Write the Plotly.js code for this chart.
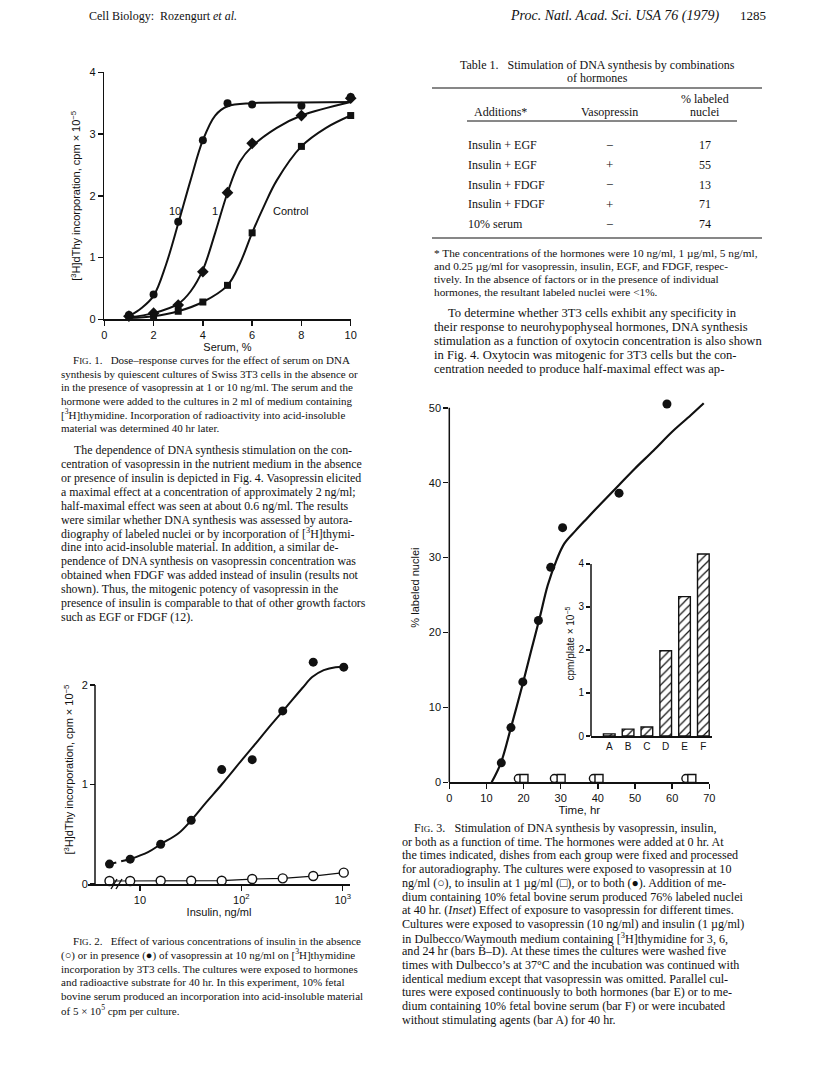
<!DOCTYPE html>
<html><head><meta charset="utf-8">
<script src="https://cdn.plot.ly/plotly-3.0.1.min.js"></script>
<style>html,body{margin:0;padding:0;background:#fff}</style>
</head><body><div id="page" style="width:816px;height:1089px"></div>
<script>
// ---------- Fig. 1 data ----------
const serum = [1, 2, 3, 4, 5, 6, 8, 10];
const vaso10 = [0.07, 0.40, 1.58, 2.90, 3.50, 3.48, 3.46, 3.60];
const vaso1 = [0.05, 0.10, 0.23, 0.77, 2.05, 2.85, 3.30, 3.58];
const controlSerum = [0.03, 0.05, 0.13, 0.28, 0.55, 1.40, 2.80, 3.30];
const fit10X = [1, 1.5, 2, 2.5, 3, 3.5, 4, 4.5, 5, 6, 8, 10];
const fit10Y = [0.05, 0.18, 0.38, 0.88, 1.55, 2.25, 2.9, 3.3, 3.45, 3.5, 3.51, 3.52];
const fit1X = [1, 2, 3, 3.5, 4, 4.5, 5, 5.5, 6, 7, 8, 10];
const fit1Y = [0.03, 0.10, 0.25, 0.45, 0.80, 1.40, 2.05, 2.55, 2.80, 3.10, 3.30, 3.52];
const fitCX = [1, 2, 3, 4, 5, 5.5, 6, 6.5, 7, 8, 9, 10];
const fitCY = [0.02, 0.05, 0.13, 0.28, 0.55, 0.90, 1.40, 1.85, 2.25, 2.80, 3.10, 3.30];

// ---------- Fig. 2 data (first value = no insulin, drawn left of the axis break) ----------
const insulin = [5, 8, 16, 32, 64, 128, 256, 512, 1024];
const withVaso = [0.20, 0.25, 0.40, 0.64, 1.15, 1.25, 1.74, 2.23, 2.18];
const withoutVaso = [0.03, 0.03, 0.033, 0.033, 0.033, 0.05, 0.057, 0.08, 0.114];
const fitInsX = [8, 12, 16, 24, 32, 45, 64, 100, 128, 200, 273, 400, 500, 650, 850, 1024];
const fitInsY = [0.25, 0.32, 0.40, 0.51, 0.64, 0.82, 1.00, 1.24, 1.37, 1.61, 1.77, 1.97, 2.08, 2.15, 2.18, 2.18];
const insTickVals = [10, 100, 1000];
const insTickText = ['10', '10<sup>2</sup>', '10<sup>3</sup>'];

// ---------- Fig. 3 data ----------
const timeBoth = [14, 16.6, 19.8, 24, 27.3, 30.5, 45.7, 58.6];
const labeledBoth = [2.6, 7.3, 13.4, 21.6, 28.7, 34.0, 38.6, 50.5];
const fitTime = [11.4, 13.9, 16.6, 19.8, 22, 24.4, 26.5, 28.9, 31, 34, 37, 41, 45.7, 50, 55, 60, 65, 68.5];
const fitLabeled = [0, 2.6, 7.3, 13.2, 17.5, 22.1, 26.3, 29.7, 31.9, 33.6, 35.2, 37.3, 39.7, 41.9, 44.3, 46.8, 49.0, 50.6];
const timeVaso = [18.6, 28.3, 38.8, 63.7];
const labeledVaso = [0.5, 0.5, 0.5, 0.5];
const timeIns = [20.1, 30.1, 40.3, 65.3];
const labeledIns = [0.5, 0.5, 0.5, 0.5];
// inset
const insetBars = ['A', 'B', 'C', 'D', 'E', 'F'];
const insetValues = [0.05, 0.16, 0.21, 1.98, 3.24, 4.23];

// ---------- Table 1 ----------
const tableAdditions = ['Insulin + EGF', 'Insulin + EGF', 'Insulin + FDGF', 'Insulin + FDGF', '10% serum'];
const tableVaso = ['\u2212', '+', '\u2212', '+', '\u2212'];
const tableLabeled = ['17', '55', '13', '71', '74'];

// ---------- text ----------
const SC = s => '<span style="font-size:9px">' + s + '</span>';
const fig1Caption = [
  'F' + SC('IG') + '. 1.   Dose\u2013response curves for the effect of serum on DNA',
  'synthesis by quiescent cultures of Swiss 3T3 cells in the absence or',
  'in the presence of vasopressin at 1 or 10 ng/ml. The serum and the',
  'hormone were added to the cultures in 2 ml of medium containing',
  '[<sup>3</sup>H]thymidine. Incorporation of radioactivity into acid-insoluble',
  'material was determined 40 hr later.'
];
const leftBody = [
  'The dependence of DNA synthesis stimulation on the con-',
  'centration of vasopressin in the nutrient medium in the absence',
  'or presence of insulin is depicted in Fig. 4. Vasopressin elicited',
  'a maximal effect at a concentration of approximately 2 ng/ml;',
  'half-maximal effect was seen at about 0.6 ng/ml. The results',
  'were similar whether DNA synthesis was assessed by autora-',
  'diography of labeled nuclei or by incorporation of [<sup>3</sup>H]thymi-',
  'dine into acid-insoluble material. In addition, a similar de-',
  'pendence of DNA synthesis on vasopressin concentration was',
  'obtained when FDGF was added instead of insulin (results not',
  'shown). Thus, the mitogenic potency of vasopressin in the',
  'presence of insulin is comparable to that of other growth factors',
  'such as EGF or FDGF (12).'
];
const fig2Caption = [
  'F' + SC('IG') + '. 2.   Effect of various concentrations of insulin in the absence',
  '(\u25CB) or in presence (\u25CF) of vasopressin at 10 ng/ml on [<sup>3</sup>H]thymidine',
  'incorporation by 3T3 cells. The cultures were exposed to hormones',
  'and radioactive substrate for 40 hr. In this experiment, 10% fetal',
  'bovine serum produced an incorporation into acid-insoluble material',
  'of 5 \u00D7 10<sup>5</sup> cpm per culture.'
];
const tableFootnote = [
  '* The concentrations of the hormones were 10 ng/ml, 1 \u00B5g/ml, 5 ng/ml,',
  'and 0.25 \u00B5g/ml for vasopressin, insulin, EGF, and FDGF, respec-',
  'tively. In the absence of factors or in the presence of individual',
  'hormones, the resultant labeled nuclei were &lt;1%.'
];
const rightBody = [
  'To determine whether 3T3 cells exhibit any specificity in',
  'their response to neurohypophyseal hormones, DNA synthesis',
  'stimulation as a function of oxytocin concentration is also shown',
  'in Fig. 4. Oxytocin was mitogenic for 3T3 cells but the con-',
  'centration needed to produce half-maximal effect was ap-'
];
const fig3Caption = [
  'F' + SC('IG') + '. 3.   Stimulation of DNA synthesis by vasopressin, insulin,',
  'or both as a function of time. The hormones were added at 0 hr. At',
  'the times indicated, dishes from each group were fixed and processed',
  'for autoradiography. The cultures were exposed to vasopressin at 10',
  'ng/ml (\u25CB), to insulin at 1 \u00B5g/ml (\u25A1), or to both (\u25CF). Addition of me-',
  'dium containing 10% fetal bovine serum produced 76% labeled nuclei',
  'at 40 hr. (<i>Inset</i>) Effect of exposure to vasopressin for different times.',
  'Cultures were exposed to vasopressin (10 ng/ml) and insulin (1 \u00B5g/ml)',
  'in Dulbecco/Waymouth medium containing [<sup>3</sup>H]thymidine for 3, 6,',
  'and 24 hr (bars B\u2013D). At these times the cultures were washed five',
  'times with Dulbecco\u2019s at 37\u00B0C and the incubation was continued with',
  'identical medium except that vasopressin was omitted. Parallel cul-',
  'tures were exposed continuously to both hormones (bar E) or to me-',
  'dium containing 10% fetal bovine serum (bar F) or were incubated',
  'without stimulating agents (bar A) for 40 hr.'
];

// ---------- helpers ----------
const W = 816, H = 1089;
const PX = p => p / W, PY = p => 1 - p / H;
const SERIF = 'Liberation Serif, Times New Roman, serif';
const SANS = 'Liberation Sans, Arial, sans-serif';
const INK = '#111111';
const annotations = [];
const shapes = [];
function textLines(lines, x0, y0, dy, size, indent) {
  lines.forEach((t, i) => annotations.push({
    xref: 'paper', yref: 'paper', x: PX(x0 + (i === 0 ? indent : 0)), y: PY(y0 + i * dy),
    text: t, showarrow: false, xanchor: 'left', yanchor: 'middle',
    font: {family: SERIF, size: size, color: INK}
  }));
}
function note(text, px, py, size, anchor) {
  annotations.push({xref: 'paper', yref: 'paper', x: PX(px), y: PY(py), text: text, showarrow: false,
    xanchor: anchor || 'left', yanchor: 'middle', font: {family: SERIF, size: size, color: INK}});
}
function hline(x0, x1, y, w) {
  shapes.push({type: 'line', xref: 'paper', yref: 'paper', x0: PX(x0), x1: PX(x1), y0: PY(y), y1: PY(y),
    line: {color: INK, width: w || 1}});
}

// header
note('Cell Biology:  Rozengurt <i>et al.</i>', 87, 16, 12);
note('<i>Proc. Natl. Acad. Sci. USA 76 (1979)</i>', 721, 16, 14, 'right');
note('1285', 768, 16, 13, 'right');

// left column text
textLines(fig1Caption, 59, 360, 13.6, 11, 12);
textLines(leftBody, 59, 450, 13.9, 11.9, 13);
textLines(fig2Caption, 59, 941, 13.8, 11, 12);

// table 1
note('Table 1.   Stimulation of DNA synthesis by combinations', 597, 65, 12, 'center');
note('of hormones', 597, 78, 12, 'center');
hline(432, 762, 88, 1.2);
note('% labeled', 705, 99, 12, 'center');
note('nuclei', 705, 112, 12, 'center');
note('Additions*', 500, 112, 12, 'center');
note('Vasopressin', 609, 112, 12, 'center');
hline(467, 737, 121, 1);
tableAdditions.forEach((a, i) => {
  const y = 145 + i * 19.8;
  note(a, 466, y, 12, 'left');
  note(tableVaso[i], 609, y, 13, 'center');
  note(tableLabeled[i], 705, y, 12, 'center');
});
hline(432, 762, 238, 1.2);
textLines(tableFootnote, 432, 253, 13.1, 11.3, 0);
textLines(rightBody, 432, 313, 14, 12.6, 14);
textLines(fig3Caption, 400, 828, 13.7, 12.1, 12);

// fig 1 curve labels
annotations.push({xref: 'x', yref: 'y', x: 2.85, y: 1.75, text: '10', showarrow: false, xanchor: 'center', yanchor: 'middle', font: {family: SANS, size: 11, color: INK}});
annotations.push({xref: 'x', yref: 'y', x: 4.5, y: 1.75, text: '1', showarrow: false, xanchor: 'center', yanchor: 'middle', font: {family: SANS, size: 11, color: INK}});
annotations.push({xref: 'x', yref: 'y', x: 6.75, y: 1.75, text: 'Control', showarrow: false, xanchor: 'left', yanchor: 'middle', font: {family: SANS, size: 11, color: INK}});

// fig 2 axis break marks
[114, 119].forEach(x => shapes.push({type: 'line', xref: 'paper', yref: 'paper',
  x0: PX(x - 3), x1: PX(x + 3), y0: PY(889), y1: PY(879), line: {color: INK, width: 1.4}}));
// fig 2 y axis line (0 to 2 only)
shapes.push({type: 'line', xref: 'paper', yref: 'y2', x0: PX(95), x1: PX(95), y0: 0, y1: 2, line: {color: INK, width: 1.5}});
// fig 3 y axis line (0 to 50 only)
shapes.push({type: 'line', xref: 'x3 domain', yref: 'y3', x0: 0, x1: 0, y0: 0, y1: 50, line: {color: INK, width: 1.5}});
// inset y axis line (0 to 4 only)
shapes.push({type: 'line', xref: 'x4 domain', yref: 'y4', x0: 0, x1: 0, y0: 0, y1: 4, line: {color: INK, width: 1.5}});

// ---------- traces ----------
const LW = 2;
const mk = (sym, size, open) => ({symbol: sym, size: size, color: open ? '#fff' : INK, line: {color: INK, width: open ? 1.4 : 0}});
const traces = [
  // Fig 1
  {x: fit10X, y: fit10Y, xaxis: 'x', yaxis: 'y', mode: 'lines', line: {color: INK, width: LW, shape: 'spline'}, cliponaxis: false, hoverinfo: 'skip', showlegend: false},
  {x: fit1X, y: fit1Y, xaxis: 'x', yaxis: 'y', mode: 'lines', line: {color: INK, width: LW, shape: 'spline'}, cliponaxis: false, hoverinfo: 'skip', showlegend: false},
  {x: fitCX, y: fitCY, xaxis: 'x', yaxis: 'y', mode: 'lines', line: {color: INK, width: LW, shape: 'spline'}, cliponaxis: false, hoverinfo: 'skip', showlegend: false},
  {x: serum, y: vaso10, xaxis: 'x', yaxis: 'y', mode: 'markers', name: '10 ng/ml', marker: mk('circle', 8), cliponaxis: false, showlegend: false},
  {x: serum, y: vaso1, xaxis: 'x', yaxis: 'y', mode: 'markers', name: '1 ng/ml', marker: mk('diamond', 9), cliponaxis: false, showlegend: false},
  {x: serum, y: controlSerum, xaxis: 'x', yaxis: 'y', mode: 'markers', name: 'Control', marker: mk('square', 7), cliponaxis: false, showlegend: false},
  // Fig 2
  {x: insulin, y: withoutVaso, xaxis: 'x2', yaxis: 'y2', mode: 'lines+markers', name: 'no vasopressin', line: {color: INK, width: 1.2}, marker: mk('circle', 9, true), cliponaxis: false, showlegend: false},
  {x: insulin.slice(0, 2), y: withVaso.slice(0, 2), xaxis: 'x2', yaxis: 'y2', mode: 'lines', line: {color: INK, width: LW, dash: '7px,5px'}, cliponaxis: false, hoverinfo: 'skip', showlegend: false},
  {x: fitInsX, y: fitInsY, xaxis: 'x2', yaxis: 'y2', mode: 'lines', line: {color: INK, width: LW, shape: 'spline'}, cliponaxis: false, hoverinfo: 'skip', showlegend: false},
  {x: insulin, y: withVaso, xaxis: 'x2', yaxis: 'y2', mode: 'markers', name: 'vasopressin', marker: mk('circle', 9), cliponaxis: false, showlegend: false},
  // Fig 3
  {x: fitTime, y: fitLabeled, xaxis: 'x3', yaxis: 'y3', mode: 'lines', line: {color: INK, width: 2.2, shape: 'spline'}, cliponaxis: false, hoverinfo: 'skip', showlegend: false},
  {x: timeBoth, y: labeledBoth, xaxis: 'x3', yaxis: 'y3', mode: 'markers', name: 'both', marker: mk('circle', 9), cliponaxis: false, showlegend: false},
  {x: timeVaso, y: labeledVaso, xaxis: 'x3', yaxis: 'y3', mode: 'markers', name: 'vasopressin', marker: mk('circle', 8, true), cliponaxis: false, showlegend: false},
  {x: timeIns, y: labeledIns, xaxis: 'x3', yaxis: 'y3', mode: 'markers', name: 'insulin', marker: mk('square', 8, true), cliponaxis: false, showlegend: false},
  // inset bars
  {type: 'bar', x: insetBars, y: insetValues, xaxis: 'x4', yaxis: 'y4', width: 0.62, showlegend: false,
   marker: {color: '#fff', line: {color: INK, width: 1.4}, pattern: {shape: '/', fgcolor: INK, bgcolor: '#fff', size: 6, solidity: 0.2}}}
];

// ---------- axes ----------
const tickFont = {family: SANS, size: 11, color: INK};
function ax(o) {
  return Object.assign({showline: true, linecolor: INK, linewidth: 1.5, ticks: 'outside', ticklen: 5, tickwidth: 1.5,
    tickcolor: INK, showgrid: false, zeroline: false, tickfont: tickFont, fixedrange: true}, o);
}
const layout = {
  width: W, height: H, margin: {l: 0, r: 0, t: 0, b: 0}, paper_bgcolor: '#fff', plot_bgcolor: 'rgba(0,0,0,0)',
  showlegend: false, font: {family: SANS, color: INK},
  xaxis: ax({domain: [PX(104.3), PX(350.7)], anchor: 'y', range: [0, 10], tickvals: [0, 2, 4, 6, 8, 10],
    title: {text: 'Serum, %', font: {family: SANS, size: 11, color: INK}, standoff: 2}}),
  yaxis: ax({domain: [PY(319.3), PY(72.3)], anchor: 'x', range: [0, 4], tickvals: [0, 1, 2, 3, 4],
    title: {text: '[<sup>3</sup>H]dThy incorporation, cpm \u00D7 10<sup>\u22125</sup>', font: {family: SANS, size: 11, color: INK}, standoff: 6}}),
  xaxis2: ax({domain: [PX(88), PX(350)], anchor: 'y2', type: 'log', range: [0.487, 3.072], tickvals: insTickVals, ticktext: insTickText,
    title: {text: 'Insulin, ng/ml', font: {family: SANS, size: 11, color: INK}, standoff: 3}}),
  yaxis2: ax({domain: [PY(884), PY(655.2)], anchor: 'free', position: PX(95), range: [0, 2.3], tickvals: [0, 1, 2], showline: false,
    title: {text: '[<sup>3</sup>H]dThy incorporation, cpm \u00D7 10<sup>\u22125</sup>', font: {family: SANS, size: 11, color: INK}, standoff: 4}}),
  xaxis3: ax({domain: [PX(449.3), PX(709.3)], anchor: 'y3', range: [0, 70], tickvals: [0, 10, 20, 30, 40, 50, 60, 70],
    title: {text: 'Time, hr', font: {family: SANS, size: 11.5, color: INK}, standoff: 2}}),
  yaxis3: ax({domain: [PY(782.3), PY(392.8)], anchor: 'x3', range: [0, 52], tickvals: [0, 10, 20, 30, 40, 50], showline: false,
    title: {text: '% labeled nuclei', font: {family: SANS, size: 11, color: INK}, standoff: 6}}),
  xaxis4: ax({domain: [PX(591), PX(712)], anchor: 'y4', type: 'category', range: [-0.97, 5.46], ticks: '', tickfont: {family: SANS, size: 10, color: INK}}),
  yaxis4: ax({domain: [PY(736), PY(551)], anchor: 'x4', range: [0, 4.3], tickvals: [0, 1, 2, 3, 4], showline: false, ticklen: 4,
    tickfont: {family: SANS, size: 10, color: INK},
    title: {text: 'cpm/plate \u00D7 10<sup>\u22125</sup>', font: {family: SANS, size: 10, color: INK}, standoff: 1}}),
  annotations: annotations, shapes: shapes
};
Plotly.newPlot('page', traces, layout, {staticPlot: true, displayModeBar: false});
</script></body></html>
